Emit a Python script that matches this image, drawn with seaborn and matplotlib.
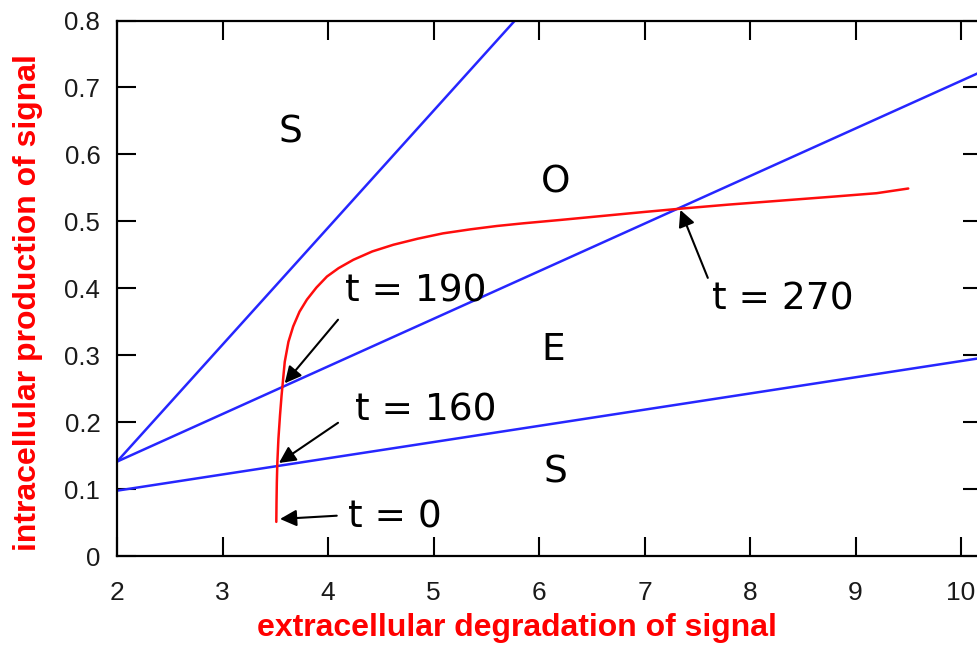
import numpy as np
import pandas as pd
import matplotlib
matplotlib.use("Agg")
import matplotlib.pyplot as plt
import seaborn as sns

# Boundary lines (x range and end values)
line_x = [2.0, 10.2]
steep_line = [0.141, 0.141 + 0.1747 * 8.2]
middle_line = [0.141, 0.141 + 0.0711 * 8.2]
lower_line = [0.0976, 0.0976 + 0.0242 * 8.2]

# Trajectory of the system
traj_x = [3.51, 3.512, 3.515, 3.52, 3.53, 3.545, 3.56, 3.59, 3.625, 3.67, 3.73,
          3.8, 3.89, 3.99, 4.1, 4.24, 4.42, 4.62, 4.85, 5.09, 5.35, 5.6, 5.85,
          6.2, 6.6, 7.0, 7.35, 7.8, 8.3, 8.8, 9.2, 9.5]
traj_y = [0.051, 0.08, 0.11, 0.14, 0.175, 0.21, 0.24, 0.29, 0.32, 0.343, 0.365,
          0.383, 0.401, 0.4175, 0.43, 0.4425, 0.455, 0.465, 0.474, 0.482, 0.488,
          0.493, 0.497, 0.502, 0.508, 0.514, 0.519, 0.525, 0.531, 0.537, 0.542,
          0.549]

# Region labels
region_text = ["S", "O", "E", "S"]
region_x = [3.64, 6.16, 6.13, 6.16]
region_y = [0.632, 0.558, 0.308, 0.124]

# Time annotations: label, text position, arrow tail, arrow tip
time_text = ["t = 0", "t = 160", "t = 190", "t = 270"]
time_text_xy = [(4.19, 0.058), (4.256, 0.218), (4.16, 0.395), (7.64, 0.383)]
time_tail_xy = [(4.083, 0.0602), (4.095, 0.199), (4.095, 0.353), (7.60, 0.4155)]
time_tip_xy = [(3.545, 0.0553), (3.535, 0.139), (3.59, 0.258), (7.34, 0.517)]

x_ticks = [2, 3, 4, 5, 6, 7, 8, 9, 10]
y_ticks = [0, 0.1, 0.2, 0.3, 0.4, 0.5, 0.6, 0.7, 0.8]
y_tick_labels = ["0", "0.1", "0.2", "0.3", "0.4", "0.5", "0.6", "0.7", "0.8"]

sns.set_style("ticks")
plt.rcParams["font.family"] = ["DejaVu Sans"]

fig = plt.figure(figsize=(9.78, 6.46), dpi=100)
ax = fig.add_axes([117 / 978, 90 / 646, 865 / 978, 535.5 / 646])

blue = "#2626ff"
lines_df = pd.DataFrame({
    "x": line_x * 3,
    "y": steep_line + middle_line + lower_line,
    "which": ["steep"] * 2 + ["middle"] * 2 + ["lower"] * 2,
})
sns.lineplot(data=lines_df, x="x", y="y", units="which", estimator=None,
             color=blue, lw=1.8, ax=ax)
traj_df = pd.DataFrame({"x": traj_x, "y": traj_y})
sns.lineplot(data=traj_df, x="x", y="y", sort=False, color="#ff0d0d", lw=1.8, ax=ax)

for txt, x, y in zip(region_text, region_x, region_y):
    ax.text(x, y, txt, fontsize=27, ha="center", va="center", color="black")

for txt, txy, tail, tip in zip(time_text, time_text_xy, time_tail_xy, time_tip_xy):
    ax.annotate("", xy=tip, xytext=tail,
                arrowprops=dict(arrowstyle="-|>", color="black", lw=1.5,
                                mutation_scale=25, shrinkA=0, shrinkB=0))
    ax.text(txy[0], txy[1], txt, fontsize=27, ha="left", va="center", color="black")

ax.set_xlim(2, 2 + 865 / 105.5)
ax.set_ylim(0, 0.8)
ax.set_xticks(x_ticks)
ax.set_yticks(y_ticks)
ax.set_yticklabels(y_tick_labels)
ax.set_xlabel("")
ax.set_ylabel("")
ax.tick_params(direction="in", length=14, width=1.5, top=True, right=True,
               colors="black")
ax.tick_params(axis="y", pad=12, labelsize=18.5)
ax.tick_params(axis="x", pad=18, labelsize=19)
for lab in ax.get_xticklabels() + ax.get_yticklabels():
    lab.set_fontfamily("Liberation Sans")
    lab.set_color("#1a1a1a")
for sp in ax.spines.values():
    sp.set_linewidth(1.6)
    sp.set_color("black")
    sp.set_visible(True)

fig.text(517 / 978, 1 - 636 / 646, "extracellular degradation of signal",
         color="red", fontsize=23, fontweight="bold", family="Liberation Sans",
         ha="center", va="baseline")
fig.text(28 / 978, 1 - 303 / 646, "intracellular production of signal",
         color="red", fontsize=23, fontweight="bold", family="Liberation Sans",
         ha="center", va="center", rotation=90)

fig.savefig("out.png", dpi=100)
